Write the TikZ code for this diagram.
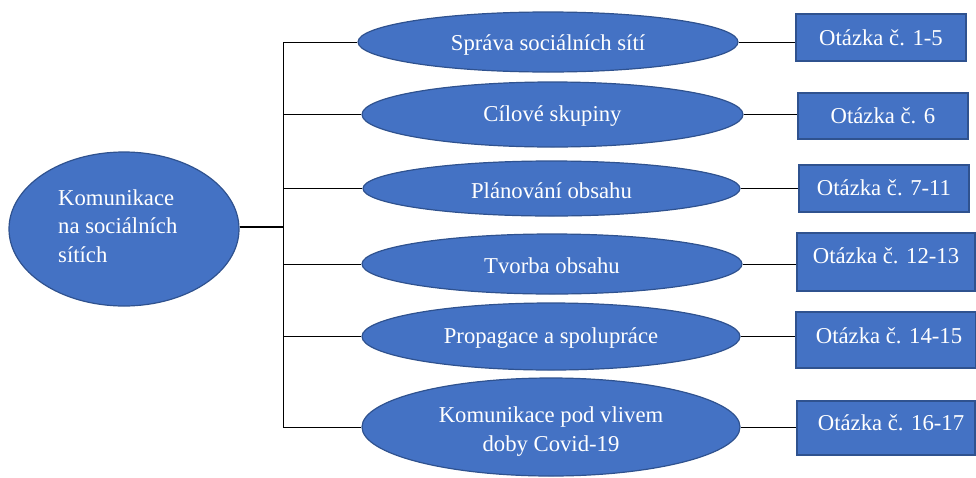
\documentclass[tikz,border=0pt]{standalone}
\usepackage{fontspec}
\setmainfont{Liberation Serif}
\usetikzlibrary{shapes.geometric}
\definecolor{fillblue}{HTML}{4472C4}
\definecolor{edgeblue}{HTML}{2F528F}
\begin{document}
\begin{tikzpicture}[x=1pt,y=-1pt,
  lbl/.style={font=\fontsize{22.7}{28.5}\selectfont, text=white, inner sep=0pt},
  oneline/.style={lbl, text height=16pt, text depth=5pt},
  oval/.style={ellipse, fill=fillblue, draw=edgeblue, line width=1.2pt, inner sep=0pt},
  qbox/.style={rectangle, fill=fillblue, draw=edgeblue, line width=1.4pt, inner sep=0pt},
  link/.style={draw=black, line width=0.9pt},
  mainlink/.style={draw=black, line width=1.6pt}]
\useasboundingbox (0,0) rectangle (976,477);

% main ellipse
\node[oval, minimum width=230pt, minimum height=154pt] (main) at (124,229) {};
\node[lbl, align=left, anchor=west] (maintext) at (58,226) {Komunikace\\na sociálních\\sítích};

% topic ellipses
\node[oval, minimum width=380pt, minimum height=60pt] (e1) at (548,42) {};
\node[oval, minimum width=381pt, minimum height=65pt] (e2) at (552.5,114.5) {};
\node[oval, minimum width=377pt, minimum height=55pt] (e3) at (551.5,188.5) {};
\node[oval, minimum width=380pt, minimum height=60pt] (e4) at (552,264) {};
\node[oval, minimum width=378pt, minimum height=67pt] (e5) at (551,336.5) {};
\node[oval, minimum width=378pt, minimum height=98pt] (e6) at (551,427) {};

\node[oneline] (t1) at (548,44.5) {Správa sociálních sítí};
\node[oneline] (t2) at (552.5,115.5) {Cílové skupiny};
\node[oneline] (t3) at (551.5,192.5) {Plánování obsahu};
\node[oneline] (t4) at (552,267.5) {Tvorba obsahu};
\node[oneline] (t5) at (551,337.5) {Propagace a spolupráce};
\node[lbl, align=center] (t6) at (551,431.5) {Komunikace pod vlivem\\doby Covid-19};

% question boxes
\node[qbox, minimum width=170pt, minimum height=47pt] (b1) at (881,37.5) {};
\node[qbox, minimum width=170pt, minimum height=46pt] (b2) at (883,116) {};
\node[qbox, minimum width=170pt, minimum height=47pt] (b3) at (884,188.5) {};
\node[qbox, minimum width=178pt, minimum height=58pt] (b4) at (886,262) {};
\node[qbox, minimum width=180pt, minimum height=56pt] (b5) at (886,340) {};
\node[qbox, minimum width=178pt, minimum height=54pt] (b6) at (886,428) {};

\node[oneline] (q1) at (881,39.5) {Otázka č. 1-5};
\node[oneline] (q2) at (883,117.5) {Otázka č. 6};
\node[oneline] (q3) at (884,189.5) {Otázka č. 7-11};
\node[oneline] (q4) at (886,257.5) {Otázka č. 12-13};
\node[oneline] (q5) at (889,337.5) {Otázka č. 14-15};
\node[oneline] (q6) at (891,424.5) {Otázka č. 16-17};

% connectors
\coordinate (hub) at (283,227);
\coordinate (bustop) at (283,42);
\coordinate (busbot) at (283,427);
\draw[mainlink] (main.east |- hub) -- (hub);
\draw[link] (bustop) -- (busbot);
\foreach \e in {e1,e2,e3,e4,e5,e6}{
  \draw[link] (bustop |- \e.west) -- (\e.west);
}
\foreach \e/\b in {e1/b1,e2/b2,e3/b3,e4/b4,e5/b5,e6/b6}{
  \draw[link] (\e.east) -- (\e.east -| \b.west);
}
\end{tikzpicture}
\end{document}
